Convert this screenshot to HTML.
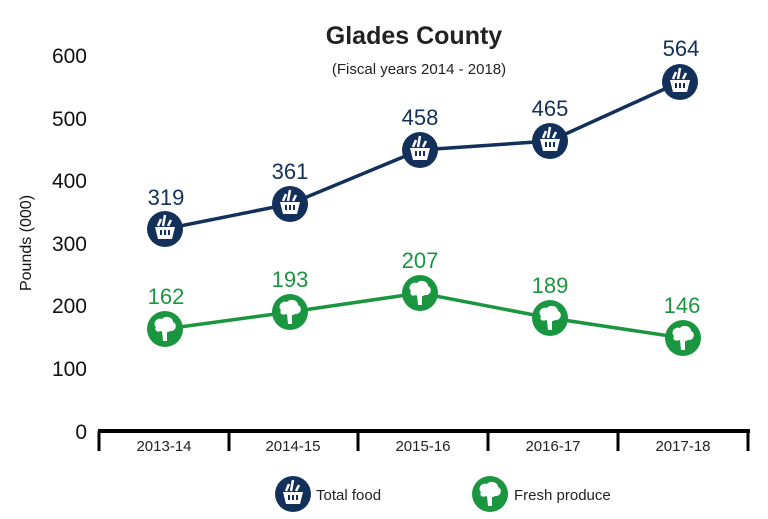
<!DOCTYPE html>
<html><head><meta charset="utf-8"><style>
html,body{margin:0;padding:0;background:#fff;}
svg{display:block;font-family:"Liberation Sans",sans-serif;}
</style></head><body>
<svg width="768" height="519" viewBox="0 0 768 519" xmlns="http://www.w3.org/2000/svg">
<defs>
<g id="bask">
<circle r="18" fill="#12305a"/>
<path d="M-10,-2 L10,-2 L7,10 L-7,10 Z" fill="#fff"/>
<rect x="-5" y="1" width="2" height="5" fill="#12305a"/><rect x="-1" y="1" width="2" height="5" fill="#12305a"/><rect x="3" y="1" width="2" height="5" fill="#12305a"/>
<path d="M-7,-3 L-4,-10 M-2,-3 L0,-14 M3,-3 L6,-9" stroke="#fff" stroke-width="2.5"/>
</g>
<g id="broc">
<circle r="18" fill="#1a9640"/>
<path d="M-9,-2 C-13,-6 -8,-12 -3,-10 C0,-14 8,-12 8,-7 C13,-5 11,3 5,2 C2,4 -2,4 -4,2 C-8,4 -11,1 -9,-2 Z" fill="#fff"/>
<path d="M-3,2 L-2,12 L2,12 L2,2 Z" fill="#fff"/>
</g>
</defs>
<text x="414" y="44" text-anchor="middle" font-size="25" font-weight="bold" fill="#222">Glades County</text>
<text x="419" y="74" text-anchor="middle" font-size="15" fill="#222">(Fiscal years 2014 - 2018)</text>
<g font-size="21" fill="#111" text-anchor="end">
<text x="87" y="439">0</text><text x="87" y="376">100</text><text x="87" y="313">200</text><text x="87" y="251">300</text><text x="87" y="188">400</text><text x="87" y="126">500</text><text x="87" y="63">600</text>
</g>
<text transform="translate(31,243) rotate(-90)" text-anchor="middle" font-size="16" fill="#111">Pounds (000)</text>
<line x1="98" y1="431" x2="750" y2="431" stroke="#000" stroke-width="4"/>
<g stroke="#000" stroke-width="3">
<line x1="99" y1="431" x2="99" y2="451"/><line x1="229" y1="431" x2="229" y2="451"/><line x1="358" y1="431" x2="358" y2="451"/><line x1="488" y1="431" x2="488" y2="451"/><line x1="618" y1="431" x2="618" y2="451"/><line x1="748" y1="431" x2="748" y2="451"/>
</g>
<g font-size="15" fill="#222" text-anchor="middle">
<text x="164" y="451">2013-14</text><text x="293" y="451">2014-15</text><text x="423" y="451">2015-16</text><text x="553" y="451">2016-17</text><text x="683" y="451">2017-18</text>
</g>
<polyline points="165,229 290,204 420,150 550,141 680,82" fill="none" stroke="#12305a" stroke-width="3.5"/>
<polyline points="165,329 290,312 420,293 550,318 683,338" fill="none" stroke="#1a9640" stroke-width="3.5"/>
<use href="#bask" x="165" y="229"/><use href="#bask" x="290" y="204"/><use href="#bask" x="420" y="150"/><use href="#bask" x="550" y="141"/><use href="#bask" x="680" y="82"/>
<use href="#broc" x="165" y="329"/><use href="#broc" x="290" y="312"/><use href="#broc" x="420" y="293"/><use href="#broc" x="550" y="318"/><use href="#broc" x="683" y="338"/>
<g font-size="22" fill="#12305a" text-anchor="middle">
<text x="166" y="205">319</text><text x="290" y="179">361</text><text x="420" y="125">458</text><text x="550" y="116">465</text><text x="681" y="56">564</text>
</g>
<g font-size="22" fill="#1a9640" text-anchor="middle">
<text x="166" y="304">162</text><text x="290" y="287">193</text><text x="420" y="268">207</text><text x="550" y="293">189</text><text x="682" y="313">146</text>
</g>
<use href="#bask" x="293" y="494"/><text x="316" y="500" font-size="15" fill="#222">Total food</text>
<use href="#broc" x="490" y="494"/><text x="514" y="500" font-size="15" fill="#222">Fresh produce</text>
</svg>
</body></html>
